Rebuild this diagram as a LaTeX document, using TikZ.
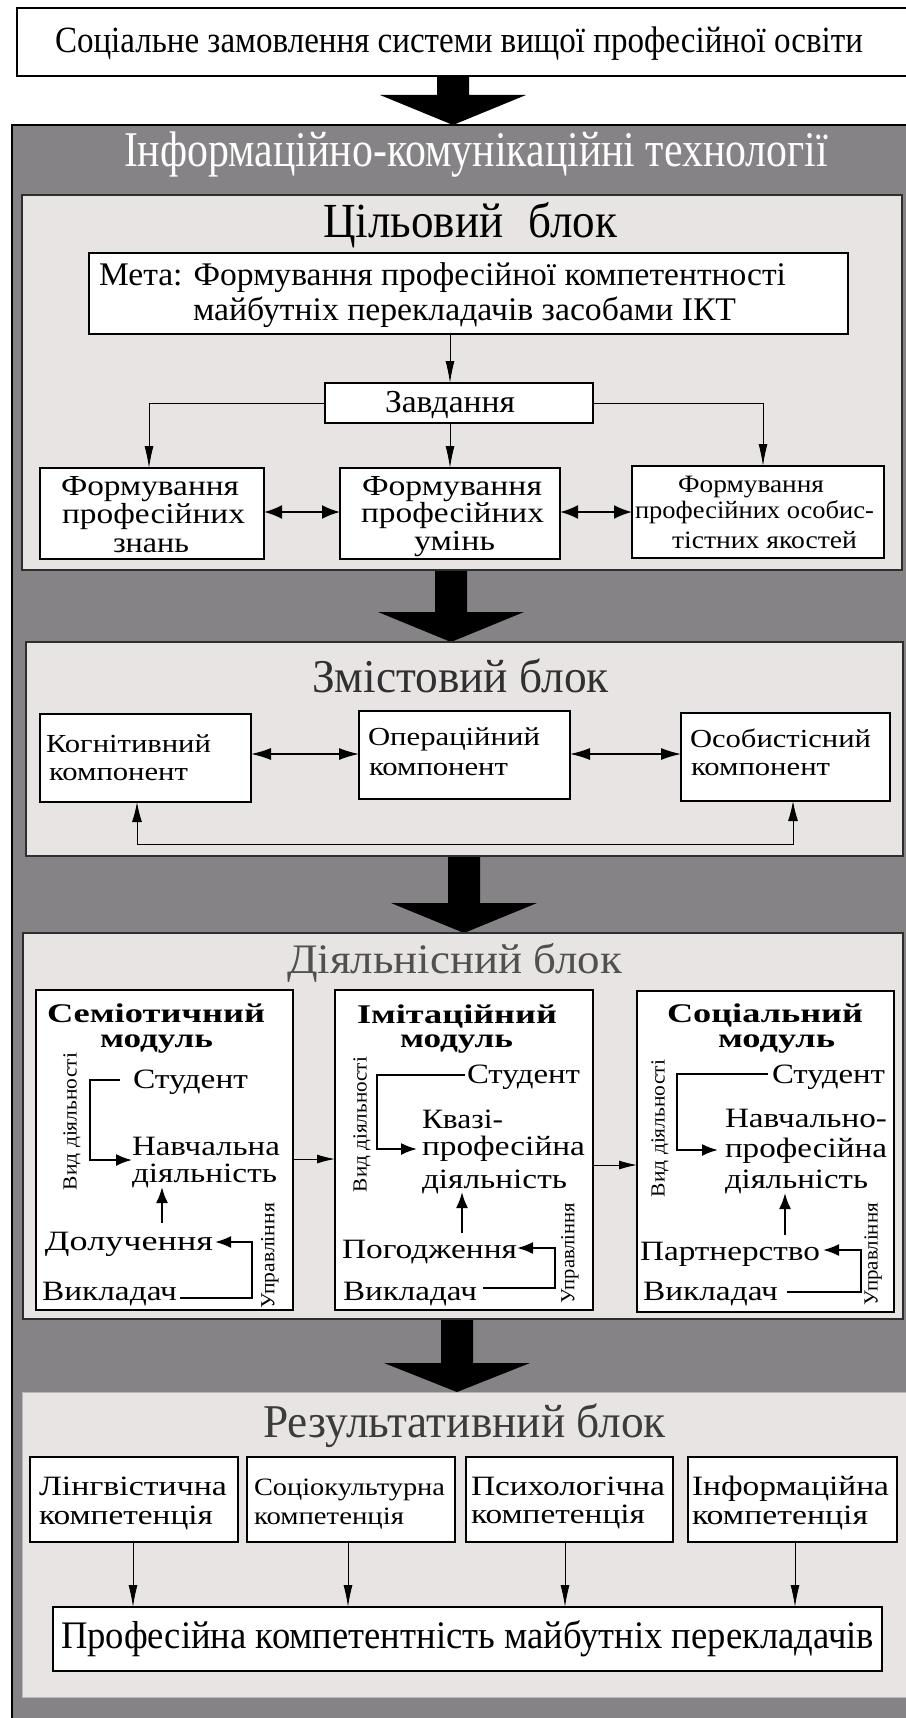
\documentclass[tikz,border=0pt]{standalone}
\usepackage{fontspec}
\setmainfont{Liberation Serif}
\usepackage{graphicx}
\usetikzlibrary{arrows.meta,calc}
\definecolor{bggray}{HTML}{858385}
\definecolor{blockfill}{HTML}{E9E4E4}
\definecolor{blockline}{HTML}{2E2E2E}
\definecolor{ttlA}{HTML}{303030}
\definecolor{ttlB}{HTML}{505050}
\definecolor{ttlC}{HTML}{3C3C3C}
\newcommand\fitw[2]{\resizebox{#1pt}{\height}{#2}}
\newcommand\fz[1]{\fontsize{#1}{#1}\selectfont}
\newcommand\rbox[6]{\node[#2,minimum width={(#5-#3)*1pt},minimum height={(#6-#4)*1pt}] (#1) at ({(#3+#5)/2},{(#4+#6)/2}) {};}
\newcommand\bigarrow[4]{\fill[black] ({#1-16},#2) -- ({#1+16},#2) -- ({#1+16},#3) -- ({#1+73},#3) -- (#1,#4) -- ({#1-73},#3) -- ({#1-16},#3) -- cycle;}
\begin{document}
\begin{tikzpicture}[x=1pt,y=-1pt,
  t/.style={anchor=base west,inner sep=0pt,outer sep=0pt},
  rt/.style={rotate=90,anchor=center,inner sep=0pt,outer sep=0pt,font=\fz{20}},
  box/.style={draw=black,line width=1.8pt,fill=white,inner sep=0pt,outer sep=0pt},
  blk/.style={draw=blockline,line width=2pt,fill=blockfill,inner sep=0pt,outer sep=0pt},
  rblk/.style={draw=blockfill!80!black,line width=0.8pt,fill=blockfill,inner sep=0pt,outer sep=0pt},
  tarr/.style={line width=1pt,-{Latex[length=22pt,width=9pt]}},
  darr/.style={line width=2pt,{Latex[length=18pt,width=14pt]}-{Latex[length=18pt,width=14pt]}},
  zarr/.style={line width=1.3pt,{Latex[length=20pt,width=12pt]}-{Latex[length=20pt,width=12pt]}},
  uarr/.style={line width=1pt,{Latex[length=20pt,width=10pt]}-{Latex[length=20pt,width=10pt]}},
  barr/.style={line width=2pt,-{Latex[length=16pt,width=12pt]}},
  marr/.style={line width=1pt,-{Latex[length=18pt,width=9pt]}},
]
\useasboundingbox (0,0) rectangle (905,1718);
\fill[white] (0,0) rectangle (905,1718);

% top box
\rbox{top}{box}{17}{8}{912}{76}
\node[t,font=\fz{37}] (topt) at (55,53) {\fitw{808}{Соціальне замовлення системи вищої професійної освіти}};

% gray ICT region
\rbox{ict}{fill=bggray,draw=black,line width=2pt,inner sep=0pt}{12}{125}{912}{1725}
\node[t,font=\fz{50},text=white] (ictt) at (124,167) {\fitw{704}{Інформаційно-комунікаційні технології}};

% big arrows
\bigarrow{453}{77}{95}{125}
\bigarrow{451}{570}{612}{642}
\bigarrow{464}{856}{903}{933}
\bigarrow{457}{1318}{1363}{1392}

% ===== Цільовий блок =====
\rbox{cb}{blk}{22}{195}{902}{570}
\node[t,font=\fz{49},text=black] (cbt) at (323,237) {\fitw{294}{Цільовий\hspace{0.55em}блок}};
\rbox{meta}{box}{89}{253}{848}{334}
\node[t,font=\fz{33}] (meta1) at (99,285) {\fitw{687}{Мета: Формування професійної компетентності}};
\node[t,font=\fz{33}] (meta2) at (193,320) {\fitw{543}{майбутніх перекладачів засобами ІКТ}};
\rbox{zav}{box}{325}{383}{593}{423}
\node[t,font=\fz{32}] (zavt) at (385,412) {\fitw{130}{Завдання}};
\rbox{z1}{box}{40}{468}{264}{559}
\node[t,font=\fz{29}] (z1a) at (61,495) {\fitw{178}{Формування}};
\node[t,font=\fz{29}] (z1b) at (62,523) {\fitw{183}{професійних}};
\node[t,font=\fz{29}] (z1c) at (113,552) {\fitw{76}{знань}};
\rbox{z2}{box}{340}{468}{560}{559}
\node[t,font=\fz{29}] (z2a) at (362,495) {\fitw{180}{Формування}};
\node[t,font=\fz{29}] (z2b) at (361,522) {\fitw{183}{професійних}};
\node[t,font=\fz{29}] (z2c) at (414,550) {\fitw{81}{умінь}};
\rbox{z3}{box}{632}{466}{884}{558}
\node[t,font=\fz{25}] (z3a) at (678,492) {\fitw{146}{Формування}};
\node[t,font=\fz{25}] (z3b) at (635,518) {\fitw{239}{професійних особис-}};
\node[t,font=\fz{25}] (z3c) at (672,548) {\fitw{185}{тістних якостей}};
\draw[tarr] ([xshift=-18.5pt]meta.south) -- ([xshift=-9pt]zav.north);
\draw[tarr] (zav.west) -| ([xshift=-3pt]z1.north);
\draw[tarr] (zav.south -| z2.north) -- (z2.north);
\draw[tarr] (zav.east) -| ([xshift=5pt]z3.north);
\draw[darr] ([yshift=1.5pt]z1.east) -- ([yshift=1.5pt]z1.east -| z2.west);
\draw[darr] ([yshift=1.5pt]z2.east) -- ([yshift=1.5pt]z2.east -| z3.west);

% ===== Змістовий блок =====
\rbox{zb}{blk}{26}{642}{903}{856}
\node[t,font=\fz{47},text=ttlA] (zbt) at (312,692) {\fitw{297}{Змістовий блок}};
\rbox{k1}{box}{40}{714}{251}{802}
\node[t,font=\fz{26}] (k1a) at (46,752) {\fitw{165}{Когнітивний}};
\node[t,font=\fz{26}] (k1b) at (49,780) {\fitw{139}{компонент}};
\rbox{k2}{box}{359}{711}{570}{799}
\node[t,font=\fz{26}] (k2a) at (368,745) {\fitw{172}{Операційний}};
\node[t,font=\fz{26}] (k2b) at (369,775) {\fitw{139}{компонент}};
\rbox{k3}{box}{681}{713}{890}{801}
\node[t,font=\fz{26}] (k3a) at (690,747) {\fitw{181}{Особистісний}};
\node[t,font=\fz{26}] (k3b) at (691,775) {\fitw{139}{компонент}};
\draw[zarr] ([yshift=4pt]k1.east) -- ([yshift=4pt]k1.east -| k2.west);
\draw[zarr] ([yshift=1pt]k2.east) -- ([yshift=1pt]k2.east -| k3.west);
\draw[uarr] ([xshift=-8.5pt]k1.south) -- ++(0,42) -| ([xshift=7.5pt]k3.south);

% ===== Діяльнісний блок =====
\rbox{db}{blk}{23}{933}{903}{1319}
\node[t,font=\fz{42},text=ttlB] (dbt) at (287,973) {\fitw{335}{Діяльнісний блок}};
\rbox{mA}{box}{36}{990}{293}{1310}
\rbox{mB}{box}{335}{990}{593}{1310}
\rbox{mC}{box}{637}{991}{894}{1312}
\draw[marr] ([yshift=-9pt]mA.east) -- ([yshift=-9pt]mA.east -| mB.west);
\draw[marr] ([yshift=-15pt]mB.east) -- ([yshift=-15pt]mB.east -| mC.west);

% module A
\node[t,font=\fz{27}\bfseries] (hA1) at (47,1022) {\fitw{218}{Семіотичний}};
\node[t,font=\fz{27}\bfseries] (hA2) at (100,1047) {\fitw{113}{модуль}};
\node[rt] (vdA) at (72,1121.5) {\fitw{137}{Вид діяльності}};
\node[t,font=\fz{28}] (sA) at (133,1088) {\fitw{115}{Студент}};
\node[t,font=\fz{28}] (nA1) at (132,1155) {\fitw{148}{Навчальна}};
\node[t,font=\fz{28}] (nA2) at (132,1182) {\fitw{145}{діяльність}};
\node[t,font=\fz{28}] (dA) at (45,1250) {\fitw{168}{Долучення}};
\node[t,font=\fz{28}] (vA) at (42,1300) {\fitw{135}{Викладач}};
\node[rt] (uA) at (270,1255.5) {\fitw{105}{Управління}};
\draw[barr] ([xshift=-13pt,yshift=8pt]sA.base west) -- ++(-30,0) |- ([yshift=-5pt]nA1.base west);
\draw[barr] ([xshift=117pt,yshift=27pt]dA.base west) -- ([xshift=30pt,yshift=-5pt]nA2.base west);
\draw[barr] ([xshift=3pt,yshift=2pt]vA.base east) -- ++(72,0) |- ([xshift=2pt,yshift=8pt]dA.base east);

% module B
\node[t,font=\fz{27}\bfseries] (hB1) at (357,1023) {\fitw{200}{Імітаційний}};
\node[t,font=\fz{27}\bfseries] (hB2) at (400,1047) {\fitw{113}{модуль}};
\node[rt] (vdB) at (362,1124.5) {\fitw{135}{Вид діяльності}};
\node[t,font=\fz{28}] (sB) at (467,1083) {\fitw{113}{Студент}};
\node[t,font=\fz{28}] (nB1) at (422,1128) {\fitw{81}{Квазі-}};
\node[t,font=\fz{28}] (nB2) at (422,1155) {\fitw{163}{професійна}};
\node[t,font=\fz{28}] (nB3) at (422,1188) {\fitw{145}{діяльність}};
\node[t,font=\fz{28}] (pB) at (342,1258) {\fitw{175}{Погодження}};
\node[t,font=\fz{28}] (vB) at (343,1300) {\fitw{134}{Викладач}};
\node[rt] (uB) at (570,1253) {\fitw{100}{Управління}};
\draw[barr] ([xshift=-2pt,yshift=8pt]sB.base west) -- ++(-88,0) |- ([xshift=-5pt,yshift=6pt]nB2.base west);
\draw[barr] ([xshift=120pt,yshift=25pt]pB.base west) -- ([xshift=40pt,yshift=-4pt]nB3.base west);
\draw[barr] ([xshift=6pt,yshift=12pt]vB.base east) -- ++(72,0) |- ([yshift=10pt]pB.base east);

% module C
\node[t,font=\fz{27}\bfseries] (hC1) at (667,1022) {\fitw{196}{Соціальний}};
\node[t,font=\fz{27}\bfseries] (hC2) at (718,1047) {\fitw{117}{модуль}};
\node[rt] (vdC) at (660,1128.5) {\fitw{137}{Вид діяльності}};
\node[t,font=\fz{28}] (sC) at (772,1083) {\fitw{113}{Студент}};
\node[t,font=\fz{28}] (nC1) at (725,1127) {\fitw{162}{Навчально-}};
\node[t,font=\fz{28}] (nC2) at (725,1157) {\fitw{162}{професійна}};
\node[t,font=\fz{28}] (nC3) at (725,1188) {\fitw{143}{діяльність}};
\node[t,font=\fz{28}] (ptC) at (640,1260) {\fitw{180}{Партнерство}};
\node[t,font=\fz{28}] (vC) at (643,1300) {\fitw{135}{Викладач}};
\node[rt] (uC) at (873,1254) {\fitw{102}{Управління}};
\draw[barr] ([xshift=-4pt,yshift=9pt]sC.base west) -- ++(-91,0) |- ([xshift=-7pt,yshift=7pt]nC2.base west);
\draw[barr] ([xshift=145pt,yshift=25pt]ptC.base west) -- ([xshift=60pt,yshift=-5pt]nC3.base west);
\draw[barr] ([xshift=9pt,yshift=8pt]vC.base east) -- ++(74,0) |- ([xshift=3pt,yshift=10pt]ptC.base east);

% ===== Результативний блок =====
\rbox{rb}{rblk}{22}{1392}{912}{1697}
\node[t,font=\fz{47},text=ttlC] (rbt) at (263,1437) {\fitw{403}{Результативний блок}};
\rbox{r1}{box}{30}{1457}{238}{1542}
\node[t,font=\fz{28}] (r1a) at (39,1495) {\fitw{188}{Лінгвістична}};
\node[t,font=\fz{28}] (r1b) at (39,1524) {\fitw{174}{компетенція}};
\rbox{r2}{box}{247}{1457}{455}{1542}
\node[t,font=\fz{25}] (r2a) at (254,1495) {\fitw{191}{Соціокультурна}};
\node[t,font=\fz{25}] (r2b) at (254,1524) {\fitw{150}{компетенція}};
\rbox{r3}{box}{466}{1457}{673}{1542}
\node[t,font=\fz{28}] (r3a) at (471,1495) {\fitw{194}{Психологічна}};
\node[t,font=\fz{28}] (r3b) at (471,1523) {\fitw{174}{компетенція}};
\rbox{r4}{box}{688}{1457}{897}{1542}
\node[t,font=\fz{28}] (r4a) at (692,1495) {\fitw{197}{Інформаційна}};
\node[t,font=\fz{28}] (r4b) at (692,1524) {\fitw{176}{компетенція}};
\rbox{pk}{box}{53}{1607}{882}{1671}
\node[t,font=\fz{39}] (pkt) at (61,1648) {\fitw{813}{Професійна компетентність майбутніх перекладачів}};
\draw[tarr] ([xshift=-1pt]r1.south) -- ([xshift=-1pt]r1.south |- pk.north);
\draw[tarr] ([xshift=-3pt]r2.south) -- ([xshift=-3pt]r2.south |- pk.north);
\draw[tarr] ([xshift=-4.5pt]r3.south) -- ([xshift=-4.5pt]r3.south |- pk.north);
\draw[tarr] ([xshift=2.5pt]r4.south) -- ([xshift=2.5pt]r4.south |- pk.north);
\end{tikzpicture}
\end{document}
